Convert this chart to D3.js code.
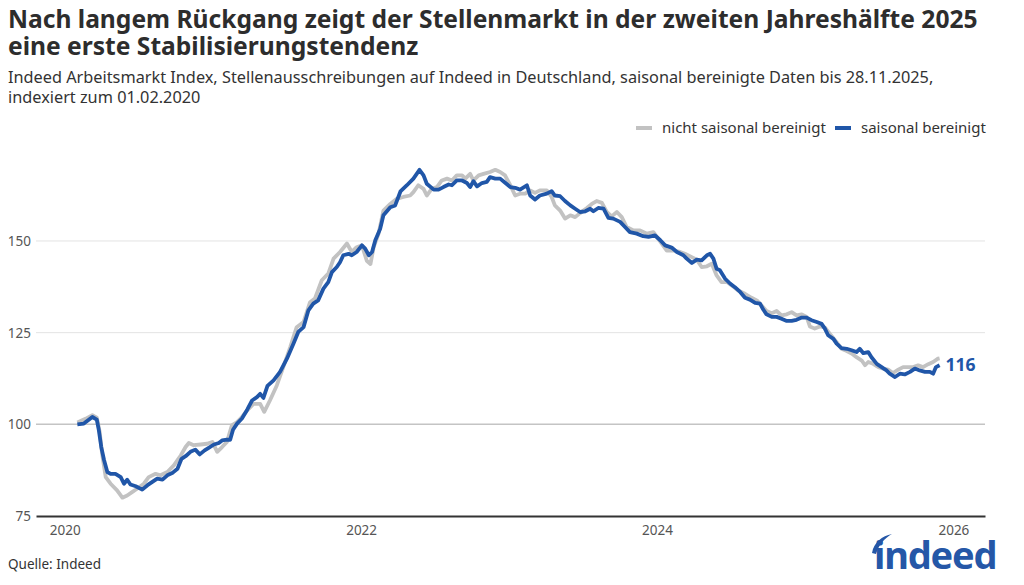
<!DOCTYPE html>
<html>
<head>
<meta charset="utf-8">
<script src="https://cdn.jsdelivr.net/npm/d3@7"></script>
<style>
  body { margin: 0; background: #fff; }
  svg { display: block; font-family: "Noto Sans", sans-serif; }
</style>
</head>
<body>
<div id="chart"></div>
<script>
// saisonal bereinigt (blue)
const saDates = ["2020-02-01","2020-02-17","2020-03-01","2020-03-09","2020-03-20","2020-03-25","2020-03-31","2020-04-07","2020-04-15","2020-04-23","2020-05-05","2020-05-18","2020-05-26","2020-06-03","2020-06-11","2020-06-24","2020-07-10","2020-07-23","2020-08-04","2020-08-16","2020-08-29","2020-09-10","2020-09-22","2020-10-05","2020-10-15","2020-10-25","2020-11-06","2020-11-18","2020-11-29","2020-12-11","2020-12-21",
  "2021-01-03","2021-01-15","2021-01-23","2021-02-04","2021-02-12","2021-02-19","2021-03-01","2021-03-13","2021-03-26","2021-04-07","2021-04-19","2021-04-27","2021-05-05","2021-05-15","2021-05-30","2021-06-15","2021-07-02","2021-07-18","2021-07-30","2021-08-12","2021-08-24","2021-09-05","2021-09-17","2021-09-30","2021-10-12","2021-10-21","2021-11-02","2021-11-10","2021-11-18","2021-12-01","2021-12-09","2021-12-21",
  "2022-01-03","2022-01-11","2022-01-20","2022-01-28","2022-02-05","2022-02-17","2022-02-25","2022-03-14","2022-03-26","2022-04-08","2022-04-24","2022-05-10","2022-05-25","2022-06-04","2022-06-12","2022-06-29","2022-07-11","2022-07-23","2022-08-05","2022-08-13","2022-08-25","2022-09-07","2022-09-19","2022-09-27","2022-10-05","2022-10-14","2022-10-26","2022-11-07","2022-11-15","2022-11-28","2022-12-10","2022-12-20",
  "2023-01-04","2023-01-16","2023-01-28","2023-02-14","2023-02-22","2023-03-06","2023-03-18","2023-04-04","2023-04-16","2023-04-24","2023-05-07","2023-05-19","2023-06-01","2023-06-13","2023-06-25","2023-07-08","2023-07-20","2023-07-28","2023-08-09","2023-08-22","2023-09-03","2023-09-15","2023-10-02","2023-10-14","2023-10-26","2023-11-12","2023-11-28","2023-12-11","2023-12-27",
  "2024-01-09","2024-01-21","2024-02-06","2024-02-19","2024-03-06","2024-03-14","2024-03-27","2024-04-08","2024-04-20","2024-05-03","2024-05-11","2024-05-19","2024-05-27","2024-06-04","2024-06-17","2024-06-29","2024-07-11","2024-07-24","2024-08-05","2024-08-17","2024-08-30","2024-09-11","2024-09-19","2024-09-27","2024-10-10","2024-10-22","2024-11-03","2024-11-16","2024-11-28","2024-12-10","2024-12-23",
  "2025-01-04","2025-01-16","2025-01-29","2025-02-10","2025-02-18","2025-02-26","2025-03-11","2025-03-19","2025-03-31","2025-04-13","2025-04-25","2025-05-07","2025-05-15","2025-05-24","2025-06-05","2025-06-13","2025-06-26","2025-07-08","2025-07-20","2025-07-28","2025-08-10","2025-08-22","2025-09-03","2025-09-16","2025-09-28","2025-10-10","2025-10-23","2025-11-04","2025-11-12","2025-11-19","2025-11-28"];
const saValues = [100,100.2,101.3,102,101.3,98.4,93.8,90.2,87,86.5,86.5,85.6,83.8,84.9,83.6,83.1,82.2,83.4,84.3,85.2,84.9,86.1,86.7,87.9,90.6,91.3,92.5,93.1,91.8,92.9,93.6,
  94.5,94.9,95.6,95.8,95.8,98.5,100.2,101.6,104,106.5,107.4,108.3,107.2,110.5,112,114.3,117.9,122,125.2,126.5,131.1,132.9,133.8,137,138.8,141.5,142.9,144.2,146.1,146.5,146.1,147,
  148.8,147.9,146.1,147,150.2,153.3,157,159.2,159.7,163.5,165.2,167,169.4,167.9,165.6,164,164,164.7,165.4,165.2,166.5,166.5,165.8,164.7,166.3,164.9,165.8,166.1,167.4,167,167,166.1,
  164.7,164.5,164,165.2,162.4,161.3,162.4,162.9,163.6,162.4,162.2,160.9,159.7,158.8,157.9,158.1,158.8,158.1,159,158.8,156.3,156.1,155.2,153.8,152.4,152,151.3,151.1,151.5,
  150.2,148.8,148.2,147,146.1,145.2,144,144.9,144.7,146.1,146.5,145.2,142.4,142,139.7,138.4,137.4,136.1,134.5,134,133.1,132.9,131.3,130,129.3,129.3,128.8,128.2,128.2,128.5,129.1,
  129.1,128.4,127.9,127.4,126.1,124.3,123.3,122,120.8,120.6,120.2,119.7,120.6,119.4,119.7,118.3,116.5,115.6,114.7,113.8,112.9,113.8,113.6,114.3,115.2,114.7,114.3,114.3,113.8,115.6,116.1];

// nicht saisonal bereinigt (grey)
const nsaDates = ["2020-02-01","2020-02-21","2020-03-09","2020-03-20","2020-03-27","2020-04-02","2020-04-11","2020-04-23","2020-05-09","2020-05-22","2020-06-03","2020-06-15","2020-06-28","2020-07-14","2020-07-26","2020-08-12","2020-08-24","2020-09-10","2020-09-26","2020-10-13","2020-10-25","2020-11-02","2020-11-14","2020-12-01","2020-12-17","2020-12-30",
  "2021-01-11","2021-01-23","2021-02-04","2021-02-16","2021-03-01","2021-03-13","2021-03-26","2021-04-11","2021-04-27","2021-05-07","2021-05-21","2021-06-07","2021-06-23","2021-07-10","2021-07-26","2021-08-12","2021-08-28","2021-09-09","2021-09-26","2021-10-12","2021-10-25","2021-11-10","2021-11-27","2021-12-09","2021-12-21",
  "2022-01-03","2022-01-15","2022-01-24","2022-02-01","2022-02-13","2022-02-25","2022-03-14","2022-03-30","2022-04-15","2022-05-02","2022-05-10","2022-05-22","2022-06-04","2022-06-12","2022-06-24","2022-07-07","2022-07-19","2022-08-01","2022-08-13","2022-08-25","2022-09-07","2022-09-15","2022-09-27","2022-10-05","2022-10-18","2022-10-30","2022-11-15","2022-11-28","2022-12-10","2022-12-22",
  "2023-01-04","2023-01-16","2023-01-28","2023-02-10","2023-02-22","2023-03-06","2023-03-18","2023-04-04","2023-04-16","2023-04-24","2023-05-07","2023-05-19","2023-06-01","2023-06-13","2023-06-25","2023-07-12","2023-07-24","2023-08-05","2023-08-18","2023-08-30","2023-09-11","2023-09-24","2023-10-06","2023-10-18","2023-11-04","2023-11-20","2023-12-07","2023-12-23",
  "2024-01-09","2024-01-25","2024-02-10","2024-02-27","2024-03-10","2024-03-23","2024-04-08","2024-04-20","2024-05-03","2024-05-15","2024-05-27","2024-06-08","2024-06-21","2024-07-03","2024-07-19","2024-08-05","2024-08-21","2024-09-03","2024-09-15","2024-09-27","2024-10-10","2024-10-22","2024-11-03","2024-11-16","2024-11-28","2024-12-10","2024-12-23",
  "2025-01-04","2025-01-12","2025-01-24","2025-02-06","2025-02-18","2025-03-02","2025-03-19","2025-03-31","2025-04-13","2025-04-25","2025-05-07","2025-05-20","2025-05-28","2025-06-05","2025-06-17","2025-06-30","2025-07-12","2025-07-24","2025-08-05","2025-08-18","2025-08-30","2025-09-11","2025-09-24","2025-10-06","2025-10-18","2025-10-31","2025-11-12","2025-11-24","2025-11-28"];
const nsaValues = [100.5,101.5,102.5,101.8,98,92,85.6,83.8,82,80,80.6,81.5,82.5,83.8,85.6,86.5,86.1,87,88.8,91.5,93.8,94.9,94.3,94.5,94.7,95.2,
  92.5,93.8,95.2,99.7,100.6,102,103.8,105.6,105.6,103.4,106.5,110.6,115.6,121,126.5,127.9,133.3,134.3,139.3,141.1,145.2,147,149.3,147,148.3,
  148.8,144.6,143.7,148.3,152,158.3,160.1,161.5,162,162.4,163.3,165.2,164.2,162.4,164.2,164.7,166.5,167,166.5,167.9,167.9,167,168.3,166.5,167.9,168.3,168.8,169.4,168.8,167.9,
  165.2,162.4,162.9,162.9,163.8,163.1,163.8,163.8,162,159.7,158.3,156.1,157,156.5,157.6,159,160.1,160.9,160.4,157.9,156.7,157.9,156.5,153.8,152.9,152.9,152,152.4,
  149.8,147.4,147.4,147,146.5,145.8,144.9,142.9,143.1,143.8,140.6,138.8,138.8,137.9,136.5,135.6,134.5,133.8,132.4,130.9,130.3,130.9,129.7,130,130.6,129.7,130,
  129.3,126.7,126.1,126.7,126.4,124.7,122.4,120.6,120,119.3,118.3,117.4,116.1,117,116.5,115.6,115.2,114.9,114,114.9,115.6,115.6,115.6,116.1,115.6,116.4,117,117.9,118];

const yTicks = [75, 100, 125, 150];
const xTickYears = [2020, 2022, 2024, 2026];
const lastLabel = "116";

const width = 1024;
const height = 585;
const parse = d3.timeParse("%Y-%m-%d");

const sa = saDates.map((d, i) => ({ date: parse(d), value: saValues[i] }));
const nsa = nsaDates.map((d, i) => ({ date: parse(d), value: nsaValues[i] }));

const x = d3.scaleTime()
  .domain([parse("2019-10-22"), parse("2026-03-20")])
  .range([36, 985]);

const y = d3.scaleLinear()
  .domain([75, 175])
  .range([516, 149.3]);

const svg = d3.select("#chart")
  .append("svg")
  .attr("width", width)
  .attr("height", height);

// title + subtitle
svg.append("text")
  .attr("x", 8).attr("y", 28)
  .attr("font-size", 24.6).attr("font-weight", 700)
  .attr("fill", "#2d2d2d")
  .text("Nach langem Rückgang zeigt der Stellenmarkt in der zweiten Jahreshälfte 2025");
svg.append("text")
  .attr("x", 8).attr("y", 55)
  .attr("font-size", 24.6).attr("font-weight", 700)
  .attr("fill", "#2d2d2d")
  .text("eine erste Stabilisierungstendenz");

svg.append("text")
  .attr("x", 8).attr("y", 83)
  .attr("font-size", 16.3).attr("fill", "#333")
  .text("Indeed Arbeitsmarkt Index, Stellenausschreibungen auf Indeed in Deutschland, saisonal bereinigte Daten bis 28.11.2025,");
svg.append("text")
  .attr("x", 8).attr("y", 103)
  .attr("font-size", 16.3).attr("fill", "#333")
  .text("indexiert zum 01.02.2020");

// legend
const legend = svg.append("g").attr("font-size", 15).attr("fill", "#333");
const legendItems = [
  { label: "nicht saisonal bereinigt", color: "#c2c2c2", x: 636 },
  { label: "saisonal bereinigt", color: "#2056a8", x: 835 }
];
legendItems.forEach(item => {
  legend.append("line")
    .attr("x1", item.x).attr("x2", item.x + 16)
    .attr("y1", 128).attr("y2", 128)
    .attr("stroke", item.color).attr("stroke-width", 4);
  legend.append("text")
    .attr("x", item.x + 26).attr("y", 133)
    .text(item.label);
});

// grid
svg.append("g")
  .selectAll("line")
  .data(yTicks.filter(t => t !== 75))
  .join("line")
  .attr("x1", 36).attr("x2", 985)
  .attr("y1", d => y(d)).attr("y2", d => y(d))
  .attr("stroke", d => d === 100 ? "#c4c4c4" : "#e3e3e3")
  .attr("stroke-width", d => d === 100 ? 1.5 : 1);

// y labels
svg.append("g")
  .selectAll("text")
  .data(yTicks)
  .join("text")
  .attr("x", 31).attr("y", d => y(d) + 5)
  .attr("text-anchor", "end")
  .attr("font-size", 13.5).attr("fill", "#555")
  .text(d => d);

// x axis
const xAxis = svg.append("g")
  .attr("transform", `translate(0,${y(75)})`)
  .call(d3.axisBottom(x)
    .tickValues(xTickYears.map(yr => new Date(yr, 0, 1)))
    .tickFormat(d3.timeFormat("%Y"))
    .tickSize(0)
    .tickPadding(9));
xAxis.select(".domain").attr("stroke", "#333").attr("stroke-width", 2);
xAxis.selectAll("text")
  .attr("font-family", "Noto Sans, sans-serif")
  .attr("font-size", 13.5).attr("fill", "#555");

// lines
const line = d3.line()
  .x(d => x(d.date))
  .y(d => y(d.value))
  .curve(d3.curveLinear);

svg.append("path")
  .datum(nsa)
  .attr("d", line)
  .attr("fill", "none")
  .attr("stroke", "#c2c2c2")
  .attr("stroke-width", 3.8)
  .attr("stroke-linejoin", "round");

svg.append("path")
  .datum(sa)
  .attr("d", line)
  .attr("fill", "none")
  .attr("stroke", "#2056a8")
  .attr("stroke-width", 3.8)
  .attr("stroke-linejoin", "round");

const last = sa[sa.length - 1];
svg.append("text")
  .attr("x", x(last.date) + 6)
  .attr("y", y(last.value) + 6)
  .attr("font-size", 17.5).attr("font-weight", 700)
  .attr("fill", "#2056a8")
  .text(lastLabel);

// source
svg.append("text")
  .attr("x", 8).attr("y", 569)
  .attr("font-size", 13.5).attr("fill", "#333")
  .text("Quelle: Indeed");

// indeed logo
const logo = svg.append("g").attr("fill", "#2557a7");
logo.append("text")
  .attr("x", 874).attr("y", 569)
  .attr("font-size", 38).attr("font-weight", 700)
  .attr("letter-spacing", -1.2)
  .text("indeed");
logo.append("path")
  .attr("d", "M872,553 C874,542 882,536 892,534 C885,538 879,544 876,554 Z");
</script>
</body>
</html>
